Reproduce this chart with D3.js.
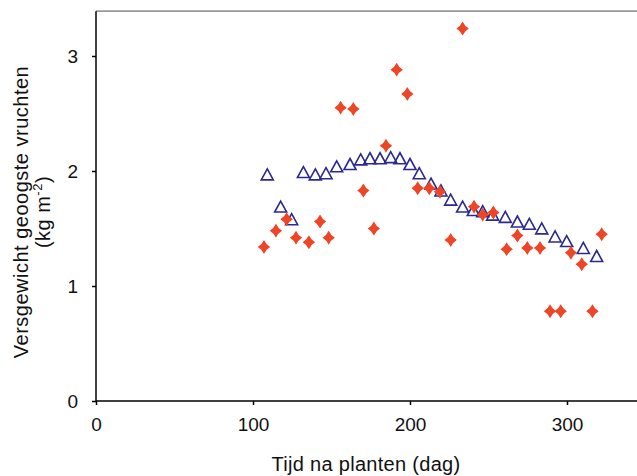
<!DOCTYPE html>
<html>
<head>
<meta charset="utf-8">
<script src="https://cdn.jsdelivr.net/npm/d3@7"></script>
<style>
  body { margin: 0; background: #fff; }
  text { font-family: "Liberation Sans", Arial, sans-serif; }
</style>
</head>
<body>
<script>
// gemeten (rode ruiten): dag, kg m-2
var measDays = [107, 114.6, 121.4, 127.4, 135.6, 142.7, 148.2, 155.8, 163.9, 170.3, 177, 184.7,
  191.5, 198.3, 204.9, 212.3, 219.1, 225.9, 233.5, 240.8, 246.3, 253.1, 261.6, 268.4,
  274.7, 282.8, 289.2, 296, 302.5, 309.4, 316.2, 322.1];
var measVals = [1.34, 1.48, 1.58, 1.42, 1.38, 1.56, 1.42, 2.55, 2.54, 1.83, 1.50, 2.22,
  2.88, 2.67, 1.85, 1.85, 1.82, 1.40, 3.24, 1.69, 1.62, 1.64, 1.32, 1.44,
  1.33, 1.33, 0.78, 0.78, 1.29, 1.19, 0.78, 1.45];

// gesimuleerd (blauwe driehoeken)
var simDays = [109.1, 117.6, 124.6, 132.1, 139.7, 146.5, 153.3, 161.8, 168.6, 174.5, 180.9, 187.7,
  193.6, 200, 205.9, 213.4, 219.7, 225.9, 233.5, 240.3, 246.3, 252.6, 260.7, 268.4,
  276, 283.9, 292.4, 299.8, 310.4, 318.9];
var simVals = [1.97, 1.69, 1.58, 1.99, 1.97, 1.98, 2.04, 2.06, 2.10, 2.11, 2.11, 2.12,
  2.11, 2.06, 1.98, 1.89, 1.83, 1.75, 1.69, 1.66, 1.65, 1.62, 1.60, 1.56,
  1.54, 1.50, 1.43, 1.39, 1.33, 1.26];

var xTicks = [0, 100, 200, 300];
var yTicks = [0, 1, 2, 3];

var width = 637, height = 476;

var svg = d3.select("body").append("svg")
    .attr("width", width)
    .attr("height", height);

var x = d3.scaleLinear().domain([0, 350]).range([96, 96 + 350 * 1.57]);
var y = d3.scaleLinear().domain([0, 3.4]).range([401, 10]);

// top frame line
svg.append("line")
    .attr("x1", 96).attr("x2", width)
    .attr("y1", y(3.39)).attr("y2", y(3.39))
    .attr("stroke", "#999")
    .attr("stroke-width", 1.6);

var xAxis = svg.append("g")
    .attr("transform", "translate(0," + y(0) + ")")
    .call(d3.axisBottom(x).tickValues(xTicks).tickFormat(d3.format("d"))
      .tickSize(4).tickSizeOuter(0).tickPadding(13));
xAxis.select(".domain").attr("d", "M96,0H" + width);

var yAxis = svg.append("g")
    .attr("transform", "translate(" + x(0) + ",0)")
    .call(d3.axisLeft(y).tickValues(yTicks).tickFormat(d3.format("d"))
      .tickSize(4).tickSizeOuter(0).tickPadding(14));
yAxis.select(".domain").attr("d", "M0," + y(0) + "V" + y(3.39));

svg.selectAll(".domain, .tick line")
    .attr("stroke", "#000")
    .attr("stroke-width", 1.5);
svg.selectAll(".tick text")
    .attr("font-size", 19)
    .attr("font-family", "Liberation Sans, Arial, sans-serif")
    .attr("fill", "#111");

// axis titles
svg.append("text")
    .attr("x", 366)
    .attr("y", 471)
    .attr("text-anchor", "middle")
    .attr("font-size", 20)
    .attr("letter-spacing", 0.3)
    .attr("fill", "#111")
    .text("Tijd na planten (dag)");

var yt = svg.append("g").attr("transform", "translate(0,212) rotate(-90)");
yt.append("text")
    .attr("x", 0).attr("y", 28)
    .attr("text-anchor", "middle")
    .attr("font-size", 20)
    .attr("letter-spacing", 0.5)
    .attr("fill", "#111")
    .text("Versgewicht geoogste vruchten");
var l2 = yt.append("text")
    .attr("x", 0).attr("y", 50)
    .attr("text-anchor", "middle")
    .attr("font-size", 20)
    .attr("letter-spacing", 0.5)
    .attr("fill", "#111");
l2.append("tspan").text("(kg m");
l2.append("tspan").attr("font-size", 13).attr("dy", -8).text("-2");
l2.append("tspan").attr("dy", 8).text(")");

// markers
var diamond = "M0,-7Q2.2,-2.2 6.2,0Q2.2,2.2 0,7Q-2.2,2.2 -6.2,0Q-2.2,-2.2 0,-7Z";
var triangle = "M0,-5.6L6,5.4L-6,5.4Z";

svg.selectAll(".sim")
    .data(d3.range(simDays.length))
    .enter().append("path")
    .attr("class", "sim")
    .attr("d", triangle)
    .attr("transform", function(i) { return "translate(" + x(simDays[i]) + "," + y(simVals[i]) + ")"; })
    .attr("fill", "none")
    .attr("stroke", "#2a2a8e")
    .attr("stroke-width", 1.6);

svg.selectAll(".meas")
    .data(d3.range(measDays.length))
    .enter().append("path")
    .attr("class", "meas")
    .attr("d", diamond)
    .attr("transform", function(i) { return "translate(" + x(measDays[i]) + "," + y(measVals[i]) + ")"; })
    .attr("fill", "#ee4526");
</script>
</body>
</html>
